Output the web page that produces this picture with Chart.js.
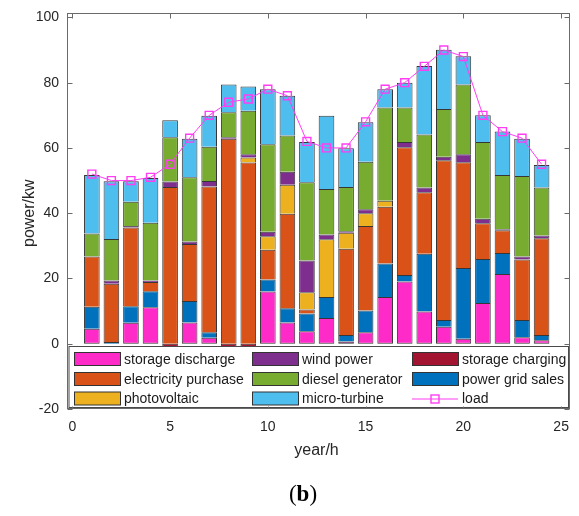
<!DOCTYPE html>
<html>
<head>
<meta charset="utf-8">
<script src="https://cdn.jsdelivr.net/npm/chart.js@4.4.0/dist/chart.umd.min.js"></script>
<style>
body { margin: 0; background: #fff; }
#wrap { width: 579px; height: 516px; }
</style>
</head>
<body>
<div id="wrap"><canvas id="myChart" width="579" height="516"></canvas></div>
<script>
var hours = [1,2,3,4,5,6,7,8,9,10,11,12,13,14,15,16,17,18,19,20,21,22,23,24];

// hourly power of each source, kW
var storageDischarge = [4.6,0,6.4,11.2,0,6.5,1.8,0,0,16.0,6.5,3.8,7.9,0.7,3.5,14.3,19.1,9.9,5.2,1.5,12.5,21.4,2.0,1.1];
var gridSales = [6.7,0.5,5.1,4.9,0,6.6,1.7,0,0,3.7,4.4,5.5,6.4,2.0,6.7,10.3,2.0,17.7,2.1,21.7,13.5,6.4,5.3,1.6];
var purchase = [15.4,17.9,24.1,2.8,48.0,17.5,44.7,62.8,55.5,9.1,28.9,1.2,0,26.4,25.9,17.4,39.1,18.8,48.9,32.4,10.9,7.0,18.5,29.6];
var photovoltaic = [0,0,0,0,0,0,0,0,1.6,4.1,8.9,5.3,17.7,4.9,3.9,1.8,0,0,0,0,0,0,0,0];
var windPower = [0,1.0,0.5,0.5,1.7,0.7,1.7,0.5,1.0,1.4,4.0,9.7,1.5,0.5,1.2,0,1.6,1.5,1.1,2.5,1.4,0.3,0.9,0.9];
var diesel = [7.1,12.7,7.4,17.7,13.6,19.7,10.5,7.6,13.3,26.8,11.1,24.0,13.9,13.5,14.6,28.6,10.6,16.2,14.6,21.3,23.5,16.6,24.7,14.7];
var microTurbine = [17.9,17.7,6.3,13.7,5.2,11.8,9.5,8.5,7.4,16.9,12.2,12.3,22.5,11.9,12.1,5.6,7.6,21.0,18.2,8.7,8.2,13.3,11.4,6.9];
var storageCharging = [0,0,0,0,-1.2,0,0,-1.2,-1.2,0,0,0,0,0,0,0,0,0,0,0,0,0,0,0];
var load = [52,50,50,51,55,63,70,74,75,78,76,62,60,60,68,78,80,85,90,88,70,65,63,55];

var xTicks = [0,5,10,15,20,25];
var yTicks = [-20,0,20,40,60,80,100];

// bottom-to-top stacking order
var bars = [
  {label: 'storage discharge', values: storageDischarge, color: '#ff2bc8'},
  {label: 'power grid sales', values: gridSales, color: '#0072bd'},
  {label: 'electricity purchase', values: purchase, color: '#d95319'},
  {label: 'photovoltaic', values: photovoltaic, color: '#edb120'},
  {label: 'wind power', values: windPower, color: '#7e2f8e'},
  {label: 'diesel generator', values: diesel, color: '#77ac30'},
  {label: 'micro-turbine', values: microTurbine, color: '#4dbeee'},
  {label: 'storage charging', values: storageCharging, color: '#a2142f'}
];
var loadColor = '#ff3df2';

// legend entries, filled row by row in 3 columns
var legendOrder = ['storage discharge','wind power','storage charging',
                   'electricity purchase','diesel generator','power grid sales',
                   'photovoltaic','micro-turbine','load'];

function points(values) {
  return values.map(function (v, i) {
    return {x: hours[i], y: v === 0 ? null : v};
  });
}

var datasets = bars.map(function (b, k) {
  return {
    type: 'bar',
    label: b.label,
    data: points(b.values),
    backgroundColor: b.color,
    borderColor: '#363636',
    borderWidth: 1,
    // shared edges between stacked pieces are drawn once
    borderSkipped: (k === 0 || k === bars.length - 1) ? false : 'start',
    stack: 'a',
    order: 1,
    barPercentage: 0.8,
    categoryPercentage: 1.0
  };
});
datasets.push({
  type: 'line',
  label: 'load',
  data: points(load),
  borderColor: loadColor,
  borderWidth: 1,
  tension: 0,
  pointStyle: 'rect',
  pointRadius: 5.6,
  pointBorderWidth: 1.4,
  pointBorderColor: loadColor,
  pointBackgroundColor: 'rgba(0,0,0,0)',
  stack: 'load',
  order: 0
});

var framePlugin = {
  id: 'frame',
  afterDraw: function (chart) {
    var ctx = chart.ctx;
    var xs = chart.scales.x, ys = chart.scales.y;
    var L = 67.5, R = 569.5, T = 13.5, B = 408.5;
    ctx.save();

    // legend box inside the axes
    ctx.fillStyle = '#fff';
    ctx.fillRect(L + 1.5, 346.5, R - L - 2.5, 61);
    ctx.strokeStyle = '#4a4a4a';
    ctx.lineWidth = 1;
    ctx.strokeRect(L + 1.5, 346.5, R - L - 2.5, 61);

    var colX = [74, 252, 412];
    var rowY = [359, 379, 398.5];
    ctx.font = '14px "Liberation Sans", Arial, sans-serif';
    ctx.textBaseline = 'middle';
    ctx.textAlign = 'left';
    legendOrder.forEach(function (name, k) {
      var x = colX[k % 3], y = rowY[Math.floor(k / 3)];
      if (name === 'load') {
        ctx.strokeStyle = loadColor;
        ctx.lineWidth = 1;
        ctx.beginPath();
        ctx.moveTo(x, y + 0.5);
        ctx.lineTo(x + 46, y + 0.5);
        ctx.stroke();
        ctx.lineWidth = 1.4;
        ctx.strokeRect(x + 19, y - 3.5, 8, 8);
      } else {
        var b = bars.filter(function (s) { return s.label === name; })[0];
        ctx.fillStyle = b.color;
        ctx.fillRect(x + 0.5, y - 6.5, 46, 13);
        ctx.strokeStyle = '#333';
        ctx.lineWidth = 1;
        ctx.strokeRect(x + 0.5, y - 6.5, 46, 13);
      }
      ctx.fillStyle = '#1a1a1a';
      ctx.fillText(name, x + 50, y + 1);
    });

    // axes box with inward ticks
    ctx.strokeStyle = '#6a6a6a';
    ctx.lineWidth = 1;
    ctx.strokeRect(L, T, R - L, B - T);
    ctx.beginPath();
    xTicks.forEach(function (v) {
      var px = Math.round(xs.getPixelForValue(v)) + 0.5;
      ctx.moveTo(px, B); ctx.lineTo(px, B - 2);
      ctx.moveTo(px, T); ctx.lineTo(px, T + 5);
    });
    yTicks.forEach(function (v) {
      var py = Math.round(ys.getPixelForValue(v)) + 0.5;
      ctx.moveTo(L, py); ctx.lineTo(L + 5, py);
      ctx.moveTo(R, py); ctx.lineTo(R - 5, py);
    });
    ctx.stroke();

    // panel label
    var parts = [['(', '23px "Liberation Serif", serif'],
                 ['b', 'bold 23px "Liberation Serif", serif'],
                 [')', '23px "Liberation Serif", serif']];
    var total = 0;
    parts.forEach(function (p) { ctx.font = p[1]; total += ctx.measureText(p[0]).width; });
    var cx = 303 - total / 2;
    ctx.fillStyle = '#000';
    ctx.textBaseline = 'middle';
    parts.forEach(function (p) {
      ctx.font = p[1];
      ctx.fillText(p[0], cx, 495);
      cx += ctx.measureText(p[0]).width;
    });
    ctx.restore();
  }
};

Chart.defaults.font.family = '"Liberation Sans", Arial, sans-serif';
Chart.defaults.color = '#262626';

new Chart('myChart', {
  data: {datasets: datasets},
  plugins: [framePlugin],
  options: {
    responsive: false,
    animation: false,
    events: [],
    layout: {padding: {left: 0, top: 13, right: 9, bottom: 0}},
    plugins: {
      legend: {display: false},
      tooltip: {enabled: false}
    },
    scales: {
      x: {
        type: 'linear',
        min: -0.22,
        max: 25.2,
        offset: false,
        grid: {display: false, offset: false, drawTicks: false},
        border: {display: false},
        afterBuildTicks: function (scale) {
          scale.ticks = xTicks.map(function (v) { return {value: v}; });
        },
        afterFit: function (scale) { scale.height = 107; },
        ticks: {font: {size: 14}, padding: 10, maxRotation: 0},
        title: {display: true, text: 'year/h', font: {size: 16}, padding: {bottom: 56}}
      },
      y: {
        type: 'linear',
        stacked: true,
        min: -20,
        max: 100,
        grid: {display: false, drawTicks: false},
        border: {display: false},
        afterBuildTicks: function (scale) {
          scale.ticks = yTicks.map(function (v) { return {value: v}; });
        },
        afterFit: function (scale) { scale.width = 68; },
        ticks: {font: {size: 14}, padding: 9},
        title: {display: true, text: 'power/kw', font: {size: 16}, padding: {top: 20}}
      }
    }
  }
});
</script>
</body>
</html>
